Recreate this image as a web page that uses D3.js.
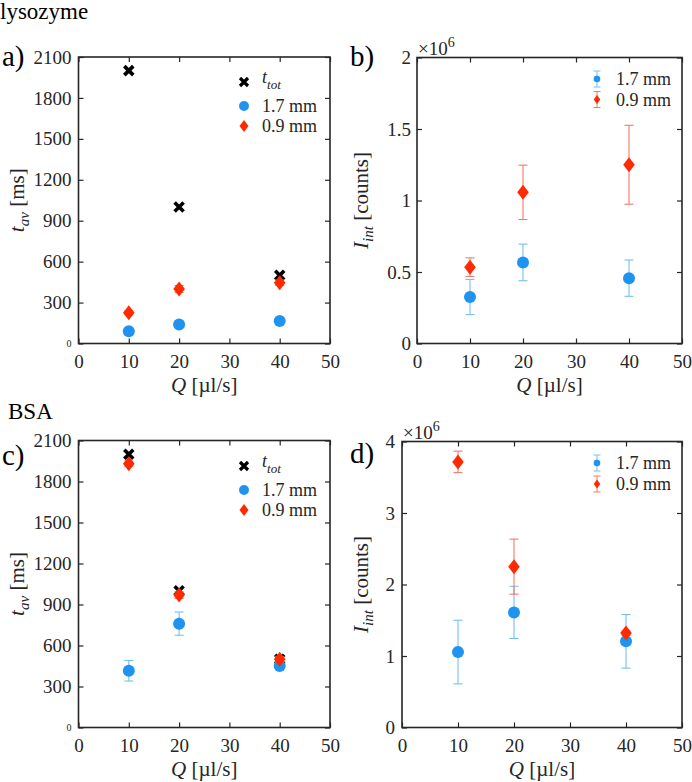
<!DOCTYPE html>
<html><head><meta charset="utf-8">
<script src="https://cdn.jsdelivr.net/npm/d3@7"></script>
<style>
html,body{margin:0;padding:0;background:#fff;}
svg text{font-family:"Liberation Serif","Times New Roman",Times,"DejaVu Serif",serif !important;}
</style></head>
<body><svg id="c" width="692" height="782"></svg>
<script>
// ---- data ----
const Q = [10, 20, 40];
const xTicks = [0, 10, 20, 30, 40, 50];
const tTicks = [0, 300, 600, 900, 1200, 1500, 1800, 2100];
const iTicksB = [0, 0.5, 1, 1.5, 2];
const iTicksD = [0, 1, 2, 3, 4];
const seriesLabels = ["1.7 mm", "0.9 mm"];

const lysoTtot = [2000, 1000, 500];
const lyso17 = [90, 140, 165];
const lyso17Err = [4, 6, 8];
const lyso09 = [225, 400, 445];
const lyso09Err = [15, 25, 20];

const lysoI17 = [0.325, 0.567, 0.457];
const lysoI17Err = [0.123, 0.128, 0.127];
const lysoI09 = [0.534, 1.057, 1.25];
const lysoI09Err = [0.065, 0.19, 0.276];

const bsaTtot = [2000, 1000, 500];
const bsa17 = [415, 760, 450];
const bsa17Err = [75, 85, 15];
const bsa09 = [1930, 970, 500];
const bsa09Err = [20, 25, 20];

const bsaI17 = [1.055, 1.61, 1.205];
const bsaI17Err = [0.445, 0.365, 0.375];
const bsaI09 = [3.715, 2.25, 1.32];
const bsaI09Err = [0.15, 0.385, 0.03];

// ---- style ----
const AX = "#262626";
const BLUE = "#1f93f0", BLUE_E = "#74bff2";
const RED = "#ff2a00", RED_E = "#f27a66";
const FONT = '"Liberation Serif","Times New Roman",Times,"DejaVu Serif",serif';

const svg = d3.select("#c");

function diamondPath(w, h){ return `M0,${-h}L${w},0L0,${h}L${-w},0Z`; }

function panel(o){
  const x = d3.scaleLinear().domain([0, 50]).range([o.l, o.r]);
  const y = d3.scaleLinear().domain([0, o.ymax]).range([o.b, o.t]);
  const g = svg.append("g");
  const fmt = o.fmt || (d => d);
  const bottom = g.append("g").attr("transform", `translate(0,${o.b})`)
    .call(d3.axisBottom(x).tickValues(xTicks).tickSizeInner(-5).tickSizeOuter(0).tickPadding(11));
  const top = g.append("g").attr("transform", `translate(0,${o.t})`)
    .call(d3.axisTop(x).tickValues(xTicks).tickSizeInner(-5).tickSizeOuter(0).tickFormat(""));
  const left = g.append("g").attr("transform", `translate(${o.l},0)`)
    .call(d3.axisLeft(y).tickValues(o.yticks).tickSizeInner(-5).tickSizeOuter(0).tickPadding(o.ypad).tickFormat(fmt));
  const right = g.append("g").attr("transform", `translate(${o.r},0)`)
    .call(d3.axisRight(y).tickValues(o.yticks).tickSizeInner(-5).tickSizeOuter(0).tickFormat(""));
  [bottom, top, left, right].forEach(a => {
    a.attr("font-family", FONT);
    a.select(".domain").remove();
    a.selectAll("line").attr("stroke", AX).attr("stroke-width", 1.2);
    a.selectAll("text").attr("fill", AX).style("font-size", "19px");
  });
  if (o.smallZero) left.selectAll(".tick").filter(d => d === 0).select("text").style("font-size", "10px");
  g.append("rect").attr("x", o.l).attr("y", o.t).attr("width", o.r - o.l).attr("height", o.b - o.t)
    .attr("fill", "none").attr("stroke", AX).attr("stroke-width", 1.6);

  const xt = g.append("text").attr("x", (o.l + o.r) / 2).attr("y", o.b + 48).attr("text-anchor", "middle")
    .attr("fill", AX).style("font-size", "21px");
  xt.append("tspan").style("font-style", "italic").text("Q");
  xt.append("tspan").text(" [µl/s]");
  const yt = g.append("text").attr("transform", `translate(${o.ytx},${(o.t + o.b) / 2}) rotate(-90)`)
    .attr("text-anchor", "middle").attr("fill", AX).style("font-size", "21px");
  yt.append("tspan").style("font-style", "italic").text(o.ysym);
  yt.append("tspan").style("font-style", "italic").style("font-size", "15px").attr("dy", 5).text(o.ysub);
  yt.append("tspan").attr("dy", -5).text(" " + o.yunit);

  function errs(vals, e, col){
    const cap = 4.5;
    vals.forEach((v, i) => {
      if (!e || !e[i]) return;
      const cx = x(Q[i]), y1 = y(v - e[i]), y2 = y(v + e[i]);
      g.append("line").attr("x1", cx).attr("x2", cx).attr("y1", y1).attr("y2", y2).attr("stroke", col).attr("stroke-width", 1.1);
      [y1, y2].forEach(yy => g.append("line").attr("x1", cx - cap).attr("x2", cx + cap).attr("y1", yy).attr("y2", yy).attr("stroke", col).attr("stroke-width", 1.1));
    });
  }
  if (o.ttot) {
    o.ttot.forEach((v, i) => {
      const cx = x(Q[i]), cy = y(v), s = 4.5;
      g.append("path").attr("d", `M${cx - s},${cy - s}L${cx + s},${cy + s}M${cx - s},${cy + s}L${cx + s},${cy - s}`)
        .attr("stroke", "#000").attr("stroke-width", 3.6).attr("fill", "none");
    });
  }
  errs(o.s17, o.s17e, BLUE_E);
  o.s17.forEach((v, i) => g.append("circle").attr("cx", x(Q[i])).attr("cy", y(v)).attr("r", 6).attr("fill", BLUE));
  errs(o.s09, o.s09e, RED_E);
  o.s09.forEach((v, i) => g.append("path").attr("d", diamondPath(5.8, 7.5))
    .attr("transform", `translate(${x(Q[i])},${y(v)})`).attr("fill", RED));

  const L = o.leg;
  const lg = g.append("g");
  if (o.ttot) {
    const cy = L.ys[0], cx = L.x, s = 4;
    lg.append("path").attr("d", `M${cx - s},${cy - s}L${cx + s},${cy + s}M${cx - s},${cy + s}L${cx + s},${cy - s}`)
      .attr("stroke", "#000").attr("stroke-width", 3.2);
    const t = lg.append("text").attr("x", L.tx).attr("y", cy + 1).attr("fill", AX).style("font-size", "18px");
    t.append("tspan").style("font-style", "italic").text("t");
    t.append("tspan").style("font-style", "italic").style("font-size", "13px").attr("dy", 6).text("tot");
    lg.append("circle").attr("cx", cx).attr("cy", L.ys[1]).attr("r", 5).attr("fill", BLUE);
    lg.append("path").attr("d", diamondPath(4.5, 6)).attr("transform", `translate(${cx},${L.ys[2]})`).attr("fill", RED);
    [1, 2].forEach(k => lg.append("text").attr("x", L.tx).attr("y", L.ys[k] + 6).attr("fill", AX)
      .style("font-size", "18px").text(seriesLabels[k - 1]));
  } else {
    const cx = L.x;
    [[BLUE, BLUE_E], [RED, RED_E]].forEach((c, k) => {
      const cy = L.ys[k];
      lg.append("line").attr("x1", cx).attr("x2", cx).attr("y1", cy - 8).attr("y2", cy + 8).attr("stroke", c[1]);
      [cy - 8, cy + 8].forEach(yy => lg.append("line").attr("x1", cx - 3.5).attr("x2", cx + 3.5).attr("y1", yy).attr("y2", yy).attr("stroke", c[1]));
      if (k === 0) lg.append("circle").attr("cx", cx).attr("cy", cy).attr("r", 3.3).attr("fill", c[0]);
      else lg.append("path").attr("d", diamondPath(3.3, 4.5)).attr("transform", `translate(${cx},${cy})`).attr("fill", c[0]);
      lg.append("text").attr("x", L.tx).attr("y", cy + 6).attr("fill", AX).style("font-size", "18px").text(seriesLabels[k]);
    });
    const ex = g.append("text").attr("x", o.l + 1).attr("y", o.t - 3).attr("fill", AX).style("font-size", "19px");
    ex.append("tspan").text("×10");
    ex.append("tspan").attr("dy", -8).style("font-size", "14px").text("6");
  }
  svg.append("text").attr("x", o.px).attr("y", o.py).attr("fill", "#000").style("font-size", "29px").text(o.plabel);
}

svg.append("text").attr("x", 0).attr("y", 19).style("font-size", "23px").attr("fill", "#000").text("lysozyme");
svg.append("text").attr("x", 8).attr("y", 419).style("font-size", "23px").attr("fill", "#000").text("BSA");

panel({l: 78.5, r: 330, t: 57, b: 343.5, ymax: 2100, yticks: tTicks, ypad: 7, smallZero: true,
  ytx: 24, ysym: "t", ysub: "av", yunit: "[ms]",
  ttot: lysoTtot, s17: lyso17, s17e: lyso17Err, s09: lyso09, s09e: lyso09Err,
  leg: {x: 244, tx: 262, ys: [82, 106, 126]}, plabel: "a)", px: 2, py: 66});

panel({l: 417, r: 682, t: 57.5, b: 343.5, ymax: 2, yticks: iTicksB, ypad: 6,
  ytx: 368, ysym: "I", ysub: "int", yunit: "[counts]",
  s17: lysoI17, s17e: lysoI17Err, s09: lysoI09, s09e: lysoI09Err,
  leg: {x: 597, tx: 616, ys: [79, 99.5]}, plabel: "b)", px: 350, py: 66});

panel({l: 78.5, r: 330, t: 440.5, b: 727.5, ymax: 2100, yticks: tTicks, ypad: 7, smallZero: true,
  ytx: 24, ysym: "t", ysub: "av", yunit: "[ms]",
  ttot: bsaTtot, s17: bsa17, s17e: bsa17Err, s09: bsa09, s09e: bsa09Err,
  leg: {x: 244, tx: 262, ys: [466, 490, 510]}, plabel: "c)", px: 2, py: 465});

panel({l: 402, r: 682, t: 441.5, b: 727.5, ymax: 4, yticks: iTicksD, ypad: 7,
  ytx: 368, ysym: "I", ysub: "int", yunit: "[counts]",
  s17: bsaI17, s17e: bsaI17Err, s09: bsaI09, s09e: bsaI09Err,
  leg: {x: 597, tx: 616, ys: [463, 484]}, plabel: "d)", px: 350, py: 463});
</script></body></html>
